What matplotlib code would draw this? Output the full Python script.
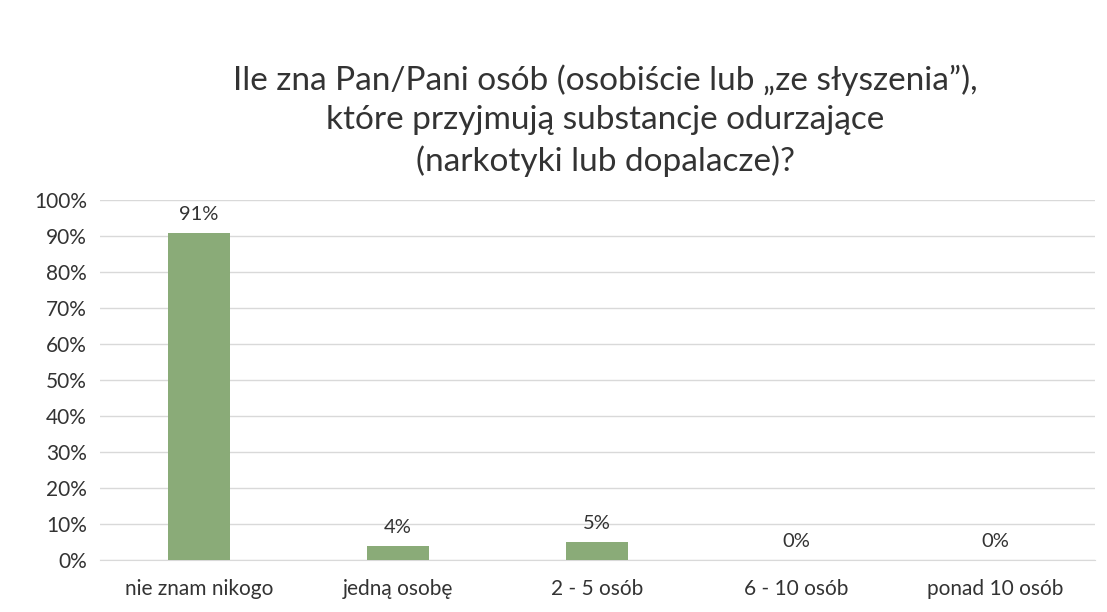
import matplotlib
matplotlib.use("Agg")
import matplotlib.pyplot as plt
from matplotlib.ticker import PercentFormatter

categories = ["nie znam nikogo", "jedną osobę", "2 - 5 osób", "6 - 10 osób", "ponad 10 osób"]
values = [0.91, 0.04, 0.05, 0.0, 0.0]
labels = ["91%", "4%", "5%", "0%", "0%"]

plt.rcParams['font.family'] = ['Lato', 'DejaVu Sans']

fig = plt.figure(figsize=(11.07, 6.12), dpi=100)
ax = fig.add_axes([0.09, 0.085, 0.899, 0.588])

x = range(len(categories))
bars = ax.bar(x, values, width=0.31, color="#8aab78", zorder=3)
for b, lab in zip(bars, labels):
    ax.annotate(lab, (b.get_x() + b.get_width() / 2, b.get_height()),
                xytext=(0, 7), textcoords="offset points",
                ha="center", va="bottom", fontsize=14.5, color="#333333")

ax.set_ylim(0, 1)
ax.set_xlim(-0.5, len(categories) - 0.5)
ax.set_yticks([i / 10 for i in range(11)])
ax.yaxis.set_major_formatter(PercentFormatter(1.0, decimals=0))
ax.set_xticks(list(x))
ax.set_xticklabels(categories)
ax.tick_params(axis="both", length=0, labelsize=15, colors="#333333")
ax.tick_params(axis="y", pad=9)
ax.tick_params(axis="x", pad=14)
ax.grid(axis="y", color="#d9d9d9", linewidth=1, zorder=0)
for s in ["left", "right", "top"]:
    ax.spines[s].set_visible(False)
ax.spines["bottom"].set_color("#d9d9d9")

fig.text(0.547, 0.803, "Ile zna Pan/Pani osób (osobiście lub „ze słyszenia”),\n"
         "które przyjmują substancje odurzające\n(narkotyki lub dopalacze)?",
         ha="center", va="center", fontsize=24, color="#333333", linespacing=1.4)

fig.savefig("out.png", dpi=100)
